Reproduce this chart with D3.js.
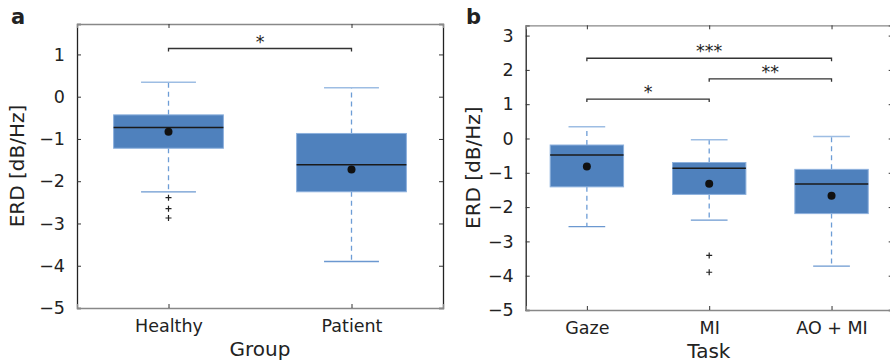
<!DOCTYPE html>
<html>
<head>
<meta charset="utf-8">
<script src="https://cdn.jsdelivr.net/npm/d3@7"></script>
<style>
  body { margin: 0; background: #fff; }
  text { font-family: "DejaVu Sans", sans-serif; fill: #222; }
</style>
</head>
<body>
<svg id="chart" width="890" height="363"></svg>
<script>
// panel a: group comparison
const groupNames = ["Healthy", "Patient"];
const groupWhiskLo = [-2.25, -3.9];
const groupQ1 = [-1.22, -2.25];
const groupMedian = [-0.73, -1.61];
const groupQ3 = [-0.43, -0.87];
const groupWhiskHi = [0.34, 0.21];
const groupMean = [-0.83, -1.72];
const groupOutliers = [[-2.39, -2.65, -2.87], []];
const groupSig = [{from: 0, to: 1, y: 1.14, label: "*"}];

// panel b: task comparison
const taskNames = ["Gaze", "MI", "AO + MI"];
const taskWhiskLo = [-2.57, -2.38, -3.72];
const taskQ1 = [-1.41, -1.63, -2.19];
const taskMedian = [-0.48, -0.87, -1.33];
const taskQ3 = [-0.19, -0.70, -0.90];
const taskWhiskHi = [0.34, -0.04, 0.06];
const taskMean = [-0.82, -1.32, -1.67];
const taskOutliers = [[], [-3.41, -3.90], []];
const taskSig = [
  {from: 0, to: 2, y: 2.34, label: "***"},
  {from: 1, to: 2, y: 1.74, label: "**"},
  {from: 0, to: 1, y: 1.15, label: "*"}
];

const yTicks = [-5, -4, -3, -2, -1, 0, 1, 2, 3];

const svg = d3.select("#chart");
const boxFill = "#4f81bd", boxEdge = "#8db1dd", whiskColor = "#6d9dd6";

let drawPanel = (cfg) => {
  const g = svg.append("g");
  const n = cfg.names.length;
  const x = d3.scaleLinear().domain([0.5, n + 0.5]).range([cfg.left, cfg.right]);
  const y = d3.scaleLinear().domain(cfg.yDomain).range([cfg.bottom, cfg.top]);
  const ticks = yTicks.filter(t => t >= cfg.yDomain[0] && t <= cfg.yDomain[1]);
  const pos = d3.range(1, n + 1);

  // axes frame
  const left = g.append("g").attr("transform", `translate(${cfg.left},0)`)
    .call(d3.axisLeft(y).tickValues(ticks).tickSize(-4).tickPadding(12).tickFormat(d3.format("d")));
  const right = g.append("g").attr("transform", `translate(${cfg.right},0)`)
    .call(d3.axisRight(y).tickValues(ticks).tickSize(-4).tickFormat(""));
  const bottom = g.append("g").attr("transform", `translate(0,${cfg.bottom})`)
    .call(d3.axisBottom(x).tickValues(pos).tickSize(-4).tickPadding(12).tickFormat((d, i) => cfg.names[i]));
  const top = g.append("g").attr("transform", `translate(0,${cfg.top})`)
    .call(d3.axisTop(x).tickValues(pos).tickSize(-4).tickFormat(""));
  [left, right].forEach(a => a.select(".domain").attr("stroke", "#222").attr("stroke-width", 1.3));
  [top, bottom].forEach(a => a.select(".domain").attr("stroke", "#888").attr("stroke-width", 1.3));
  [left, right, top, bottom].forEach(a => {
    a.selectAll(".tick line").attr("stroke", "#333");
    a.selectAll("text").style("font-size", "17.5px").attr("fill", "#222");
  });

  const half = 0.3, cap = 0.15;
  pos.forEach((p, i) => {
    // dashed whiskers
    g.append("line").attr("x1", x(p)).attr("x2", x(p))
      .attr("y1", y(cfg.q3[i])).attr("y2", y(cfg.hi[i]))
      .attr("stroke", whiskColor).attr("stroke-width", 1.3).attr("stroke-dasharray", "5,4");
    g.append("line").attr("x1", x(p)).attr("x2", x(p))
      .attr("y1", y(cfg.q1[i])).attr("y2", y(cfg.lo[i]))
      .attr("stroke", whiskColor).attr("stroke-width", 1.3).attr("stroke-dasharray", "5,4");
    // caps
    g.append("line").attr("x1", x(p - cap)).attr("x2", x(p + cap))
      .attr("y1", y(cfg.hi[i])).attr("y2", y(cfg.hi[i]))
      .attr("stroke", "#9dbde3").attr("stroke-width", 1.5);
    g.append("line").attr("x1", x(p - cap)).attr("x2", x(p + cap))
      .attr("y1", y(cfg.lo[i])).attr("y2", y(cfg.lo[i]))
      .attr("stroke", "#6b98d0").attr("stroke-width", 1.3);
    // box
    g.append("rect").attr("x", x(p - half)).attr("width", x(p + half) - x(p - half))
      .attr("y", y(cfg.q3[i])).attr("height", y(cfg.q1[i]) - y(cfg.q3[i]))
      .attr("fill", boxFill).attr("stroke", boxEdge).attr("stroke-width", 1);
    // median
    g.append("line").attr("x1", x(p - half)).attr("x2", x(p + half))
      .attr("y1", y(cfg.med[i])).attr("y2", y(cfg.med[i]))
      .attr("stroke", "#1a1a1a").attr("stroke-width", 1.5);
    // mean
    g.append("circle").attr("cx", x(p)).attr("cy", y(cfg.mean[i])).attr("r", 4)
      .attr("fill", "#111");
    // outliers
    cfg.out[i].forEach(v => {
      g.append("path")
        .attr("d", `M${x(p) - 3},${y(v)}h6M${x(p)},${y(v) - 3}v6`)
        .attr("stroke", "#222").attr("stroke-width", 1.2);
    });
  });

  // significance brackets
  cfg.sig.forEach(s => {
    const x1 = x(s.from + 1), x2 = x(s.to + 1), yy = y(s.y);
    g.append("path").attr("d", `M${x1},${yy + 3}V${yy}H${x2}V${yy + 3}`)
      .attr("fill", "none").attr("stroke", "#333").attr("stroke-width", 1.3);
    g.append("text").attr("x", (x1 + x2) / 2).attr("y", yy - 1)
      .attr("text-anchor", "middle").style("font-size", "17.5px").attr("fill", "#333")
      .text(s.label);
  });

  // labels
  g.append("text").attr("transform", `translate(${cfg.yLabelX},${(cfg.top + cfg.bottom) / 2}) rotate(-90)`)
    .attr("text-anchor", "middle").attr("dy", "0.35em").style("font-size", "20px").text("ERD [dB/Hz]");
  g.append("text").attr("x", (cfg.left + Math.min(cfg.right, 890)) / 2 + cfg.xLabelShift).attr("y", cfg.xLabelY)
    .attr("text-anchor", "middle").style("font-size", "20px").text(cfg.xLabel);
  g.append("text").attr("x", cfg.letterX).attr("y", 24)
    .style("font-size", "21px").style("font-weight", "bold").attr("fill", "#111").text(cfg.letter);
};

drawPanel({
  names: groupNames, lo: groupWhiskLo, q1: groupQ1, med: groupMedian, q3: groupQ3,
  hi: groupWhiskHi, mean: groupMean, out: groupOutliers, sig: groupSig,
  left: 77, right: 443, top: 24, bottom: 308, yDomain: [-5, 1.72],
  yLabelX: 17, xLabel: "Group", xLabelY: 356, xLabelShift: 0, letter: "a", letterX: 11
});

drawPanel({
  names: taskNames, lo: taskWhiskLo, q1: taskQ1, med: taskMedian, q3: taskQ3,
  hi: taskWhiskHi, mean: taskMean, out: taskOutliers, sig: taskSig,
  left: 525.7, right: 892.7, top: 25.3, bottom: 310, yDomain: [-5, 3.3],
  yLabelX: 473, xLabel: "Task", xLabelY: 358, xLabelShift: 1, letter: "b", letterX: 466
});
</script>
</body>
</html>
